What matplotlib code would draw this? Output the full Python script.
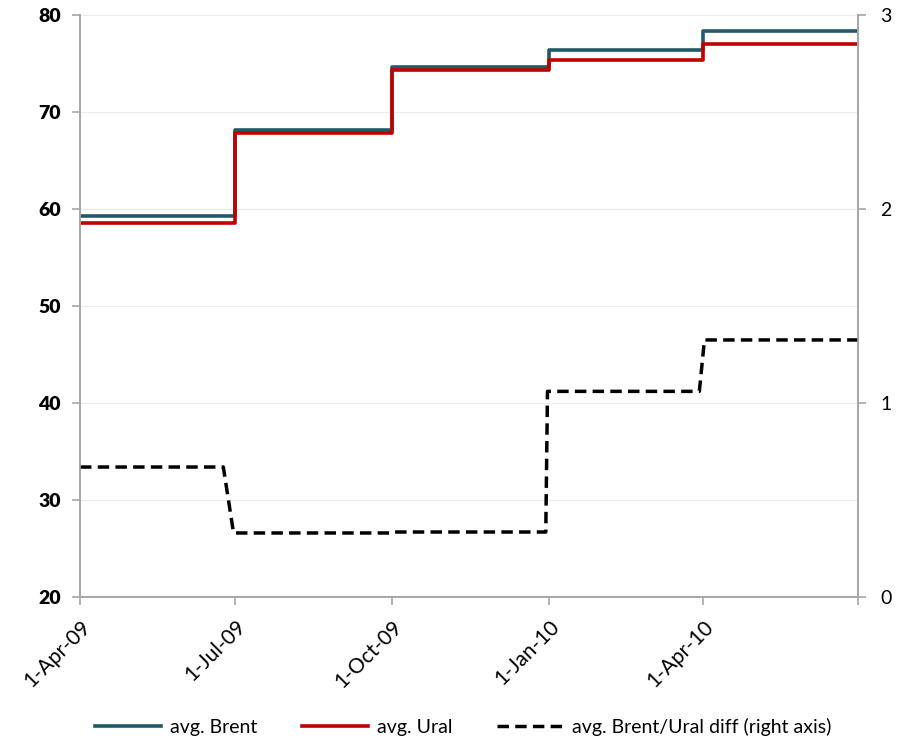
import numpy as np
import pandas as pd
import matplotlib
matplotlib.use('Agg')
import matplotlib.pyplot as plt

# quarterly averages (start of quarter), last date closes the final step
quarter_starts = ['2009-04-01', '2009-07-01', '2009-10-01', '2010-01-01', '2010-04-01', '2010-07-01']
brent = [59.3, 68.1, 74.6, 76.4, 78.3]
ural = [58.6, 67.8, 74.3, 75.4, 77.0]

# spread line as drawn (right axis)
diff_dates = ['2009-04-01', '2009-06-24', '2009-06-30', '2009-09-30', '2009-10-01',
              '2009-12-30', '2009-12-31', '2010-03-30', '2010-04-02', '2010-07-01']
diff_vals = [0.67, 0.67, 0.33, 0.33, 0.335, 0.335, 1.06, 1.06, 1.325, 1.325]

tick_dates = ['2009-04-01', '2009-07-01', '2009-10-01', '2010-01-01', '2010-04-01', '2010-07-01']
tick_labels = ['1-Apr-09', '1-Jul-09', '1-Oct-09', '1-Jan-10', '1-Apr-10', '']

plt.rcParams['font.family'] = ['Lato', 'DejaVu Sans']

qd = pd.to_datetime(quarter_starts)
fig = plt.figure(figsize=(9.06, 7.39), dpi=100)
ax = fig.add_axes([80/906, 1-597/739, (858-80)/906, (597-15)/739])
ax2 = ax.twinx()

ax.plot(qd, brent + [brent[-1]], drawstyle='steps-post', color='#215968', lw=2.6, label='avg. Brent')
ax.plot(qd, ural + [ural[-1]], drawstyle='steps-post', color='#C00000', lw=2.6, label='avg. Ural')
ax2.plot(pd.to_datetime(diff_dates), diff_vals, color='black', lw=2.5, ls=(0, (3.3, 1.8)),
         label='avg. Brent/Ural diff (right axis)')

ax.set_ylim(20, 80)
ax.set_yticks(np.arange(20, 81, 10))
ax2.set_ylim(0, 3)
ax2.set_yticks([0, 1, 2, 3])
ax.set_xlim(qd[0], qd[-1])
ax.set_xticks(pd.to_datetime(tick_dates))

ax.grid(axis='y', color='#EBEBEB', lw=0.8)
ax.set_axisbelow(True)
for a in (ax, ax2):
    a.spines['top'].set_visible(False)
    for s in ('left', 'right', 'bottom'):
        a.spines[s].set_color('#A6A6A6')
        a.spines[s].set_linewidth(1.2)
    a.tick_params(colors='#A6A6A6', length=6, width=1.2, labelcolor='black')
ax.tick_params(axis='x', pad=8)
ax.tick_params(axis='y', pad=8)
ax2.tick_params(axis='y', pad=10)
for lab in ax.get_yticklabels():
    lab.set_fontsize(14)
    lab.set_fontweight('heavy')
for lab in ax2.get_yticklabels():
    lab.set_fontsize(14)

ax.set_xticklabels(tick_labels, rotation=45, ha='right', rotation_mode='anchor', fontsize=15)

h1, l1 = ax.get_legend_handles_labels()
h2, l2 = ax2.get_legend_handles_labels()
fig.legend(h1 + h2, l1 + l2, loc='center', bbox_to_anchor=(463/906, 1-727/739), ncol=3,
           frameon=False, fontsize=14, handlelength=3.4, handletextpad=0.45, columnspacing=2.3)

fig.savefig('out.png', dpi=100)
